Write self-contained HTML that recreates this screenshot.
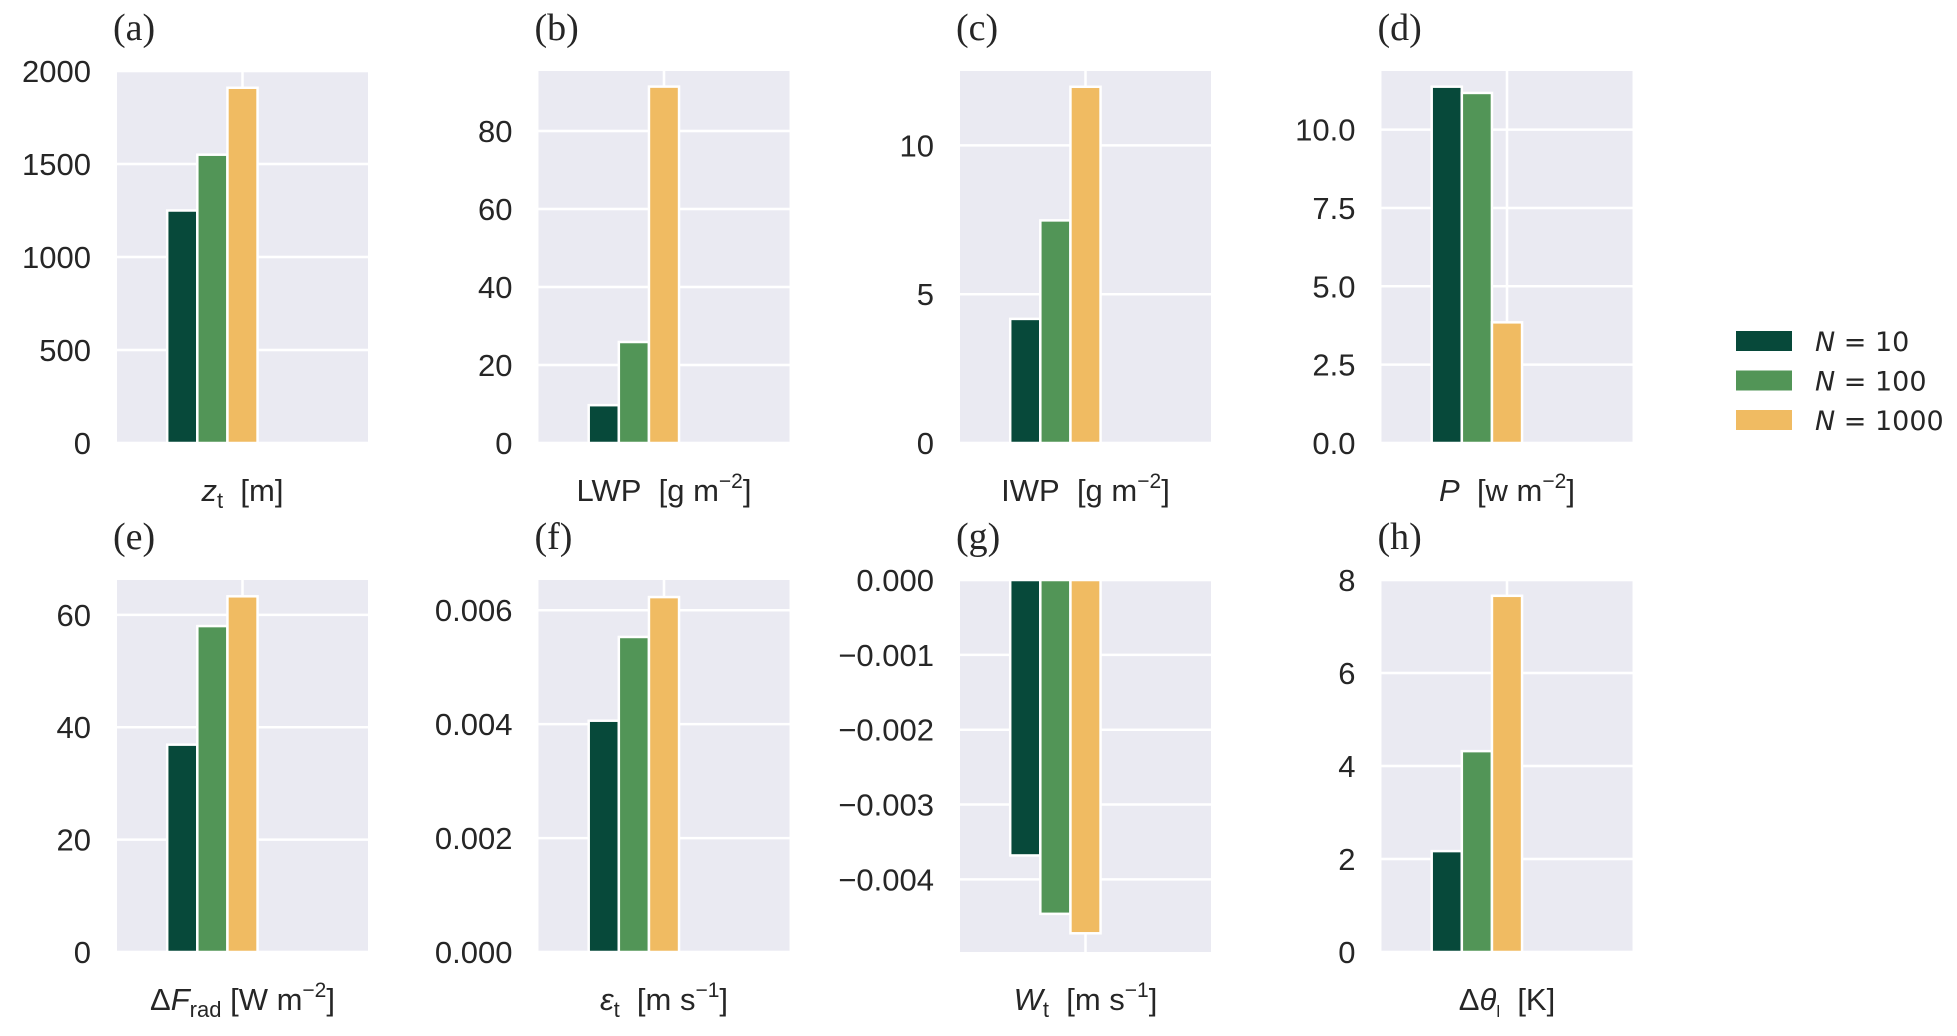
<!DOCTYPE html>
<html><head><meta charset="utf-8"><style>
html,body{margin:0;padding:0;background:#fff;}
svg{display:block;}
text{fill:#262626;}
</style></head><body>
<svg id="fig" width="1957" height="1036" xmlns="http://www.w3.org/2000/svg"></svg>
<script>
const series = ["N = 10","N = 100","N = 1000"];
const colors = ["#07493a","#529557","#f0bb62"];
const vals_a = [1250, 1550, 1910];
const vals_b = [9.7, 25.9, 91.4];
const vals_c = [4.17, 7.48, 11.97];
const vals_d = [11.37, 11.17, 3.85];
const vals_e = [36.9, 58.0, 63.3];
const vals_f = [0.00406, 0.00553, 0.00623];
const vals_g = [-0.00368, -0.00446, -0.00472];
const vals_h = [2.17, 4.32, 7.66];
const ticks_a = [0,500,1000,1500,2000];
const ticks_b = [0,20,40,60,80];
const ticks_c = [0,5,10];
const ticks_d = [0,2.5,5,7.5,10];
const ticks_e = [0,20,40,60];
const ticks_f = [0,0.002,0.004,0.006];
const ticks_g = [0,-0.001,-0.002,-0.003,-0.004];
const ticks_h = [0,2,4,6,8];
const labels_a = ["0","500","1000","1500","2000"];
const labels_b = ["0","20","40","60","80"];
const labels_c = ["0","5","10"];
const labels_d = ["0.0","2.5","5.0","7.5","10.0"];
const labels_e = ["0","20","40","60"];
const labels_f = ["0.000","0.002","0.004","0.006"];
const labels_g = ["0.000","\u22120.001","\u22120.002","\u22120.003","\u22120.004"];
const labels_h = ["0","2","4","6","8"];
const ylims = [[0,2000],[0,95.4],[0,12.5],[0,11.87],[0,66.2],[0,0.00653],[-0.00497,0],[0,8]];

const S='\u00a0\u00a0';
const panels = [
 {id:"a",v:vals_a,t:ticks_a,l:labels_a,x:'<tspan font-style="italic">z</tspan><tspan font-size="22" dy="7">t</tspan><tspan dy="-7">'+S+'[m]</tspan>'},
 {id:"b",v:vals_b,t:ticks_b,l:labels_b,x:'LWP'+S+'[g m<tspan font-size="21" dy="-13">−2</tspan><tspan dy="13">]</tspan>'},
 {id:"c",v:vals_c,t:ticks_c,l:labels_c,x:'IWP'+S+'[g m<tspan font-size="21" dy="-13">−2</tspan><tspan dy="13">]</tspan>'},
 {id:"d",v:vals_d,t:ticks_d,l:labels_d,x:'<tspan font-style="italic">P</tspan>'+S+'[w m<tspan font-size="21" dy="-13">−2</tspan><tspan dy="13">]</tspan>'},
 {id:"e",v:vals_e,t:ticks_e,l:labels_e,x:'Δ<tspan font-style="italic">F</tspan><tspan font-size="22" dy="7">rad</tspan><tspan dy="-7">\u00a0[W m</tspan><tspan font-size="21" dy="-13">−2</tspan><tspan dy="13">]</tspan>'},
 {id:"f",v:vals_f,t:ticks_f,l:labels_f,x:'<tspan font-style="italic">ε</tspan><tspan font-size="22" dy="7">t</tspan><tspan dy="-7">'+S+'[m s</tspan><tspan font-size="21" dy="-13">−1</tspan><tspan dy="13">]</tspan>'},
 {id:"g",v:vals_g,t:ticks_g,l:labels_g,x:'<tspan font-style="italic">W</tspan><tspan font-size="22" dy="7">t</tspan><tspan dy="-7">'+S+'[m s</tspan><tspan font-size="21" dy="-13">−1</tspan><tspan dy="13">]</tspan>'},
 {id:"h",v:vals_h,t:ticks_h,l:labels_h,x:'Δ<tspan font-style="italic">θ</tspan><tspan font-size="17" dy="7">l</tspan><tspan dy="-7">'+S+'[K]</tspan>'}
];
const svg = document.getElementById('fig');
const NS = "http://www.w3.org/2000/svg";
function mk(tag, attrs){const e=document.createElementNS(NS,tag);for(const k in attrs)e.setAttribute(k,attrs[k]);return e;}
const W=251, H=372;
panels.forEach((p,i)=>{
  const col=i%4,row=Math.floor(i/4);
  const x0=117+col*421.5, y0=row===0?71:580;
  const [lo,hi]=ylims[i];
  const ys=v=>y0+H-(v-lo)/(hi-lo)*H;
  const g=mk('g',{});
  
  
  svg.appendChild(g);
  const bg=mk('rect',{x:x0,y:y0,width:W,height:H,fill:'#eaeaf2'});
  
  
  g.appendChild(bg);
  p.t.forEach((tv,k)=>{
    const y=ys(tv);
    const gl=mk('line',{x1:x0,x2:x0+W,y1:y,y2:y,stroke:'#fff','stroke-width':2.5});
    
    
    g.appendChild(gl);
    const tl=mk('text',{x:x0-26,y:y+11,'text-anchor':'end','font-family':'Liberation Sans, sans-serif','font-size':31});
    tl.textContent=p.l[k];
    
    
    g.appendChild(tl);
  });
  const vg=mk('line',{x1:x0+W*0.5,x2:x0+W*0.5,y1:y0,y2:y0+H,stroke:'#fff','stroke-width':2.5});
  
  
  g.appendChild(vg);
  p.v.forEach((v,s)=>{
    const cx=x0+W*(0.26+0.12*s), bw=W*0.12;
    const ya=ys(Math.max(v,0)), yb=ys(Math.min(v,0));
    const b=mk('rect',{x:cx-bw/2,y:ya,width:bw,height:Math.max(0,yb-ya),fill:colors[s],stroke:'#fff','stroke-width':2.5});
    
    
    g.appendChild(b);
  });
  const pl=mk('text',{x:x0-4,y:y0-31,'font-family':'Liberation Serif, serif','font-size':38});
  pl.textContent='('+p.id+')';
  
  
  g.appendChild(pl);
  const xl=mk('text',{x:x0+W/2,y:y0+H+58,'text-anchor':'middle','font-family':'Liberation Sans, DejaVu Sans, sans-serif','font-size':31});
  xl.innerHTML=p.x;
  
  
  g.appendChild(xl);
});
const lg=mk('g',{});


svg.appendChild(lg);
series.forEach((s,k)=>{
  const cy=341+k*39.5;
  const r=mk('rect',{x:1736,y:cy-10,width:56,height:20,fill:colors[k]});
  
  
  lg.appendChild(r);
  const t=mk('text',{x:1815,y:cy+10,'font-family':'DejaVu Sans, sans-serif','font-size':27});
  t.innerHTML='<tspan font-style="italic">N</tspan> = '+s.split('= ')[1];
  
  
  lg.appendChild(t);
});
</script>
</body></html>
